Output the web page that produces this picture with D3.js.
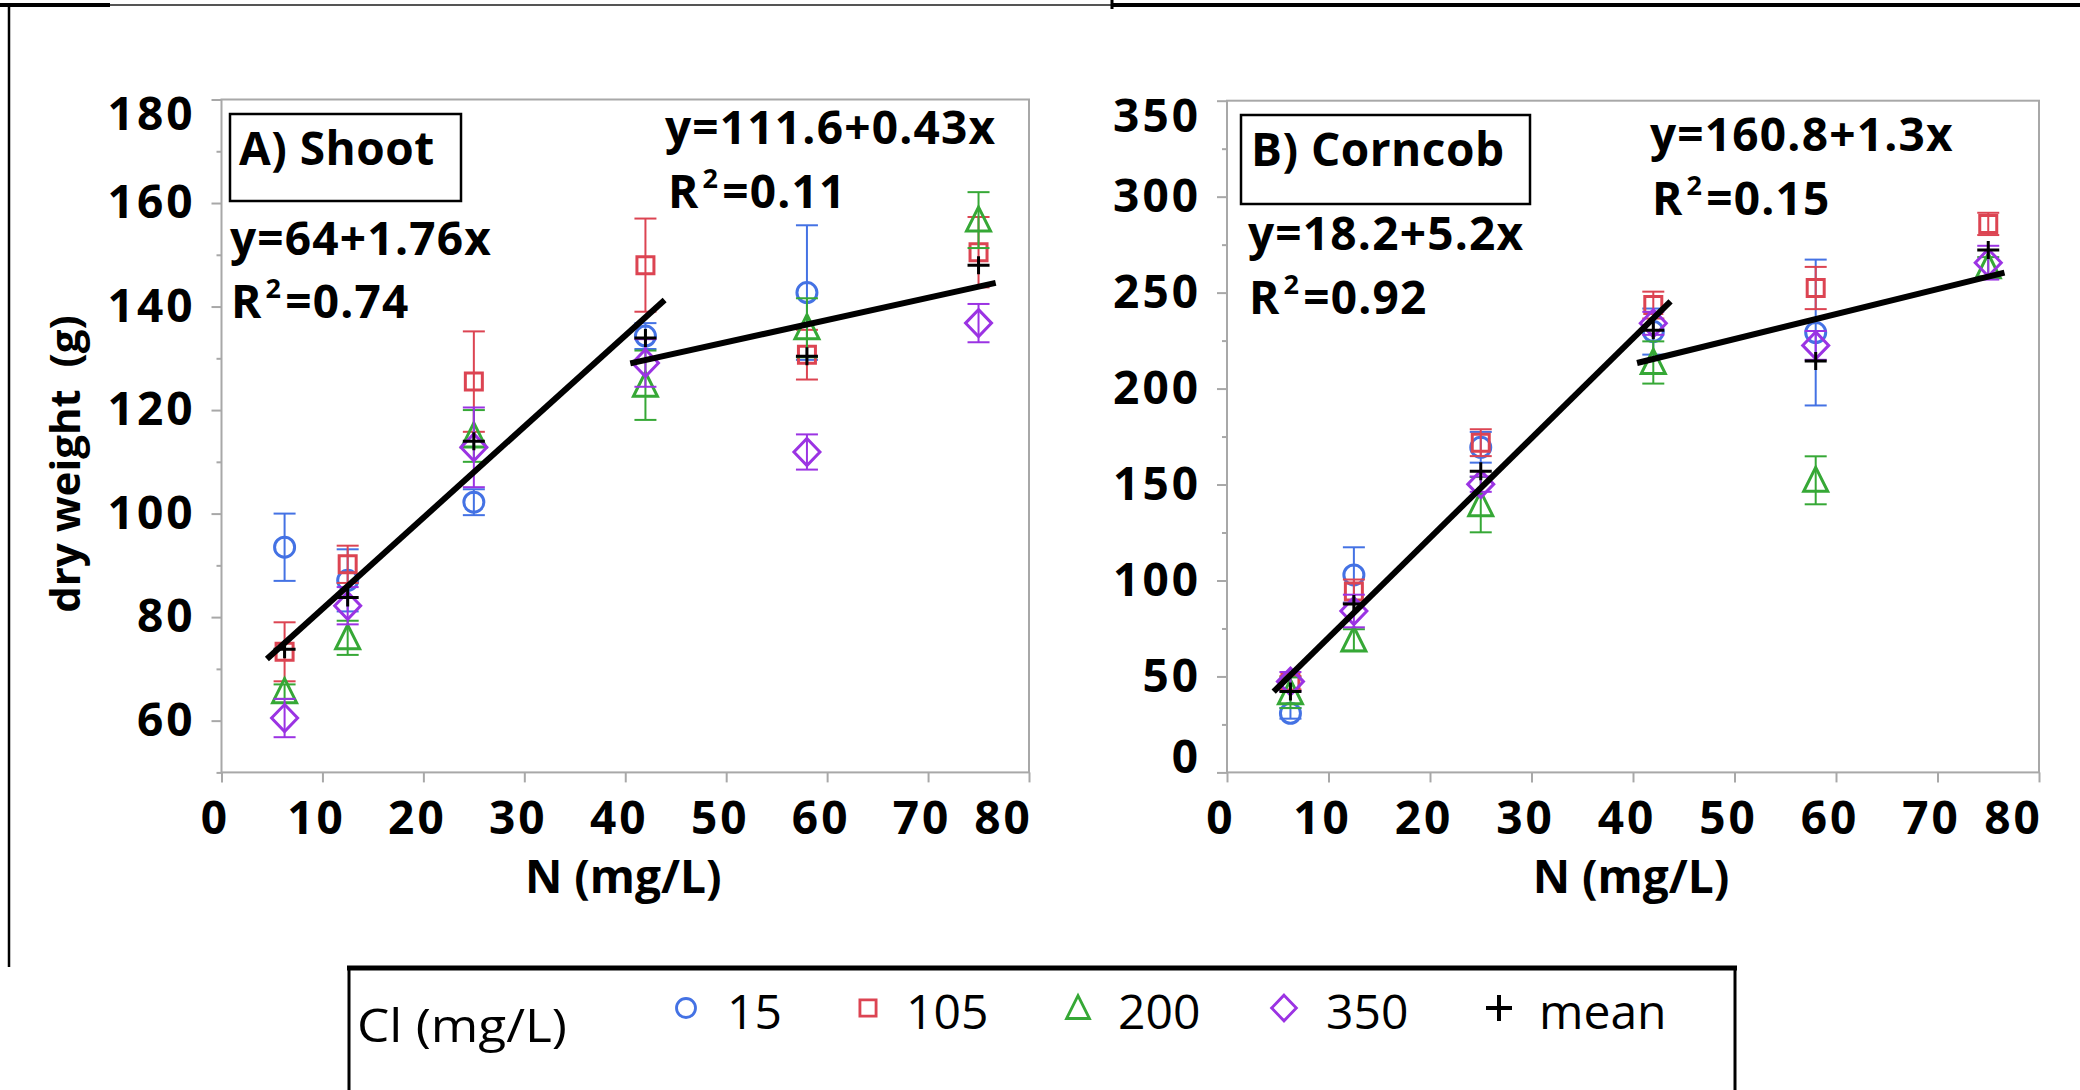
<!DOCTYPE html>
<html><head><meta charset="utf-8">
<script src="https://cdn.jsdelivr.net/npm/d3@7"></script>
<style>
body{margin:0;background:#fff}
svg{display:block}
text{font-family:'Open Sans',sans-serif}
</style>
</head><body>
<svg id="chart" width="2080" height="1090"></svg>
<script>
// ---------------- DATA ----------------
const nLevels = [6.25, 12.5, 25, 42, 58, 75];
const clLabels = ["15", "105", "200", "350"];
const xTicks = [0, 10, 20, 30, 40, 50, 60, 70, 80];

// A) Shoot dry weight (g): means and error half-widths per Cl level
const shoot15    = [93.5, 87.1, 102.2, 134.3, 142.7, null];
const shoot15Se  = [6.5, 6.0, 2.5, 2.5, 13.0, null];
const shoot105   = [73.3, 90.2, 125.5, 148.0, 130.7, 150.5];
const shoot105Se = [5.7, 3.6, 9.7, 9.0, 4.8, 6.8];
const shoot200   = [65.6, 76.0, 115.0, 124.8, 135.9, 156.7];
const shoot200Se = [1.4, 3.3, 5.0, 6.7, 5.7, 5.4];
const shoot350   = [60.5, 82.2, 112.8, 129.1, 111.9, 136.8];
const shoot350Se = [3.7, 3.6, 7.7, 4.6, 3.4, 3.7];
const shootMean  = [73.8, 83.8, 114.0, 133.9, 130.4, 148.0];
const shootYMajor = [60, 80, 100, 120, 140, 160, 180];
const shootYMinor = [50, 70, 90, 110, 130, 150, 170];
const shootFitA = [64, 111.6];
const shootFitB = [1.76, 0.43];
const shootFitFrom = [4.5, 40.5];
const shootFitTo = [43.9, 76.7];
const shootEq = ["y=64+1.76x", "y=111.6+0.43x"];
const shootR2 = ["0.74", "0.11"];

// B) Corncob dry weight (g)
const cob15    = [30.8, 102.9, 169.4, 229.7, 229.2, null];
const cob15Se  = [2.8, 14.4, 8.0, 12.0, 38.0, null];
const cob105   = [46.7, 94.2, 171.8, 243.5, 252.4, 285.8];
const cob105Se = [3.5, 6.3, 7.0, 7.0, 11.0, 5.8];
const cob200   = [41.5, 69.0, 139.5, 213.6, 152.2, 263.5];
const cob200Se = [8.0, 5.6, 14.4, 11.0, 12.5, 5.0];
const cob350   = [47.3, 84.1, 150.2, 234.0, 222.5, 265.6];
const cob350Se = [5.0, 8.5, 4.0, 6.0, 7.5, 8.8];
const cobMean  = [42.1, 87.7, 156.9, 230.4, 214.4, 272.2];
const cobYMajor = [0, 50, 100, 150, 200, 250, 300, 350];
const cobYMinor = [25, 75, 125, 175, 225, 275, 325];
const cobFitA = [18.2, 160.8];
const cobFitB = [5.2, 1.3];
const cobFitFrom = [4.6, 40.4];
const cobFitTo = [43.7, 76.6];
const cobEq = ["y=18.2+5.2x", "y=160.8+1.3x"];
const cobR2 = ["0.92", "0.15"];

// ---------------- STYLE ----------------
const colors = ["#4472e4", "#dc4452", "#36a836", "#9b33e3"];
const shapes = ["circle", "square", "triangle", "diamond"];
const gridGray = "#a8a8a8";

const svg = d3.select("#chart");

// outer figure border fragments
svg.append("line").attr("x1", 0).attr("x2", 110).attr("y1", 5).attr("y2", 5).attr("stroke", "#000").attr("stroke-width", 4);
svg.append("line").attr("x1", 110).attr("x2", 1112).attr("y1", 5).attr("y2", 5).attr("stroke", "#555").attr("stroke-width", 2);
svg.append("line").attr("x1", 1112).attr("x2", 2080).attr("y1", 5).attr("y2", 5).attr("stroke", "#000").attr("stroke-width", 4);
svg.append("line").attr("x1", 1112).attr("x2", 1112).attr("y1", 0).attr("y2", 9).attr("stroke", "#000").attr("stroke-width", 3);
svg.append("line").attr("x1", 9).attr("x2", 9).attr("y1", 4).attr("y2", 967).attr("stroke", "#000").attr("stroke-width", 2.5);

function shapePath(type) {
  if (type === "circle") return d3.arc()({innerRadius: 0, outerRadius: 10, startAngle: 0, endAngle: 2 * Math.PI});
  if (type === "square") return "M-8.5,-8.5H8.5V8.5H-8.5Z";
  if (type === "triangle") return "M0,-13L12,11H-12Z";
  if (type === "diamond") return "M0,-13.5L13,0L0,13.5L-13,0Z";
  if (type === "plus") return "M-11,0H11M0,-9V9";
}

const panels = [
  {
    title: "A) Shoot", xRange: [221.5, 1029], yDomain: [50, 180], yRange: [772.4, 99.5],
    yMajor: shootYMajor, yMinor: shootYMinor,
    series: [[shoot15, shoot15Se], [shoot105, shoot105Se], [shoot200, shoot200Se], [shoot350, shoot350Se]],
    mean: shootMean, fitA: shootFitA, fitB: shootFitB, fitFrom: shootFitFrom, fitTo: shootFitTo,
    eq: shootEq, r2: shootR2,
    box: [230, 114, 231, 87], titlePos: [239, 165],
    eqPos: [[230, 255, 231, 318], [665, 144, 668, 208]],
    yLabel: "dry weight  (g)"
  },
  {
    title: "B) Corncob", xRange: [1227, 2039], yDomain: [0, 350], yRange: [772.4, 100.7],
    yMajor: cobYMajor, yMinor: cobYMinor,
    series: [[cob15, cob15Se], [cob105, cob105Se], [cob200, cob200Se], [cob350, cob350Se]],
    mean: cobMean, fitA: cobFitA, fitB: cobFitB, fitFrom: cobFitFrom, fitTo: cobFitTo,
    eq: cobEq, r2: cobR2,
    box: [1241, 115, 289, 89], titlePos: [1251, 166],
    eqPos: [[1248, 250, 1249, 314], [1650, 151, 1652, 215]],
    yLabel: null
  }
];

panels.forEach(p => {
  const x = d3.scaleLinear().domain([0, 80]).range(p.xRange);
  const y = d3.scaleLinear().domain(p.yDomain).range(p.yRange);
  const g = svg.append("g");

  g.append("rect").attr("x", p.xRange[0]).attr("y", p.yRange[1])
    .attr("width", p.xRange[1] - p.xRange[0]).attr("height", p.yRange[0] - p.yRange[1])
    .attr("fill", "none").attr("stroke", gridGray).attr("stroke-width", 2);

  const yMin = g.append("g").attr("transform", `translate(${p.xRange[0]},0)`)
    .call(d3.axisLeft(y).tickValues(p.yMinor).tickSize(5).tickFormat(""));
  const yMaj = g.append("g").attr("transform", `translate(${p.xRange[0]},0)`)
    .call(d3.axisLeft(y).tickValues(p.yMajor).tickSize(10).tickPadding(16));
  const xAx = g.append("g").attr("transform", `translate(0,${p.yRange[0]})`)
    .call(d3.axisBottom(x).tickValues(xTicks).tickSize(10).tickPadding(19));

  [yMin, yMaj, xAx].forEach(a => {
    a.select(".domain").remove();
    a.selectAll(".tick line").attr("stroke", gridGray).attr("stroke-width", 2);
    a.selectAll(".tick text").attr("font-size", 46).attr("font-weight", 700)
      .attr("letter-spacing", 3)
      .attr("fill", "#000").attr("font-family", "'Open Sans',sans-serif");
  });
  const xLast = xTicks[xTicks.length - 1];
  xAx.selectAll(".tick text").attr("x", d => d === xLast ? -26 : -6.5);
  const top = p.yDomain[1], bot = p.yDomain[0];
  yMaj.selectAll(".tick text").attr("dy", d => d === top ? "0.66em" : (d === bot ? "0em" : "0.32em"));

  g.append("text").attr("x", (p.xRange[0] + p.xRange[1]) / 2 - 2).attr("y", 893)
    .attr("text-anchor", "middle").attr("font-size", 46).attr("font-weight", 700)
    .text("N (mg/L)");
  if (p.yLabel) {
    g.append("text").attr("transform", "translate(80,464) rotate(-90)")
      .attr("text-anchor", "middle").attr("font-size", 42).attr("font-weight", 700)
      .style("white-space", "pre").text(p.yLabel);
  }

  g.append("rect").attr("x", p.box[0]).attr("y", p.box[1]).attr("width", p.box[2]).attr("height", p.box[3])
    .attr("fill", "#fff").attr("stroke", "#000").attr("stroke-width", 2.5);
  g.append("text").attr("x", p.titlePos[0]).attr("y", p.titlePos[1])
    .attr("font-size", 46).attr("font-weight", 700).attr("letter-spacing", 0.5).text(p.title);

  p.eq.forEach((eq, i) => {
    const pos = p.eqPos[i];
    g.append("text").attr("x", pos[0]).attr("y", pos[1]).attr("font-size", 46).attr("font-weight", 700)
      .attr("letter-spacing", 1.2).text(eq);
    const t = g.append("text").attr("x", pos[2]).attr("y", pos[3]).attr("font-size", 46).attr("font-weight", 700)
      .attr("letter-spacing", 1.2);
    t.append("tspan").text("R");
    t.append("tspan").attr("font-size", 27).attr("dy", -20).attr("dx", 3).text("2");
    t.append("tspan").attr("dy", 20).attr("dx", 3).text("=" + p.r2[i]);
  });

  p.series.forEach((s, si) => {
    const vals = s[0], se = s[1];
    const pts = nLevels.map((n, i) => ({n, v: vals[i], e: se[i]})).filter(d => d.v != null);
    const sg = g.append("g").attr("stroke", colors[si]).attr("fill", "none");
    pts.forEach(d => {
      const cx = x(d.n), ylo = y(d.v - d.e), yhi = y(d.v + d.e);
      sg.append("line").attr("x1", cx).attr("x2", cx).attr("y1", ylo).attr("y2", yhi).attr("stroke-width", 2);
      sg.append("line").attr("x1", cx - 11).attr("x2", cx + 11).attr("y1", ylo).attr("y2", ylo).attr("stroke-width", 2);
      sg.append("line").attr("x1", cx - 11).attr("x2", cx + 11).attr("y1", yhi).attr("y2", yhi).attr("stroke-width", 2);
    });
    sg.selectAll("path").data(pts).join("path")
      .attr("d", shapePath(shapes[si]))
      .attr("transform", d => `translate(${x(d.n)},${y(d.v)})`)
      .attr("stroke-width", 3);
  });

  g.selectAll("path.mean").data(nLevels.map((n, i) => ({n, v: p.mean[i]}))).join("path")
    .attr("class", "mean").attr("d", shapePath("plus"))
    .attr("transform", d => `translate(${x(d.n)},${y(d.v)})`)
    .attr("stroke", "#000").attr("stroke-width", 3).attr("fill", "none");

  p.fitA.forEach((a, i) => {
    const b = p.fitB[i];
    const xs = [p.fitFrom[i], p.fitTo[i]];
    g.append("path").datum(xs.map(v => [v, a + b * v]))
      .attr("d", d3.line().x(d => x(d[0])).y(d => y(d[1])))
      .attr("stroke", "#000").attr("stroke-width", 6).attr("fill", "none");
  });
});

// ---------------- LEGEND ----------------
const lg = svg.append("g");
lg.append("rect").attr("x", 349).attr("y", 968).attr("width", 1386).attr("height", 140)
  .attr("fill", "#fff").attr("stroke", "#000").attr("stroke-width", 3);
lg.append("line").attr("x1", 347).attr("x2", 1737).attr("y1", 968).attr("y2", 968).attr("stroke", "#000").attr("stroke-width", 5);
lg.append("text").attr("x", 357).attr("y", 1042).attr("font-size", 46)
  .attr("textLength", 210).attr("lengthAdjust", "spacingAndGlyphs").text("Cl (mg/L)");

const legSymX = [686, 868, 1078, 1284];
const legTextX = [727, 906, 1118, 1326];
clLabels.forEach((lab, i) => {
  lg.append("path").attr("d", shapePath(shapes[i])).attr("transform", `translate(${legSymX[i]},1008) scale(0.95)`)
    .attr("stroke", colors[i]).attr("stroke-width", 3).attr("fill", "none");
  lg.append("text").attr("x", legTextX[i]).attr("y", 1029).attr("font-size", 48).text(lab);
});
lg.append("path").attr("d", "M-13,0H13M0,-13V13").attr("transform", "translate(1499,1008)")
  .attr("stroke", "#000").attr("stroke-width", 4).attr("fill", "none");
lg.append("text").attr("x", 1539).attr("y", 1029).attr("font-size", 48).text("mean");
</script>
</body></html>
